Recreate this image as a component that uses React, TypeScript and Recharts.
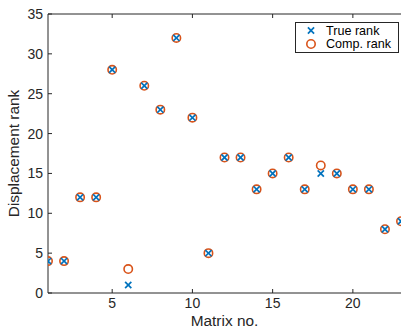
import React from 'react';
import { ScatterChart, Scatter, XAxis, YAxis, Legend } from 'recharts';

const matrixNo = [1, 2, 3, 4, 5, 6, 7, 8, 9, 10, 11, 12, 13, 14, 15, 16, 17, 18, 19, 20, 21, 22, 23];
const trueRank = [4, 4, 12, 12, 28, 1, 26, 23, 32, 22, 5, 17, 17, 13, 15, 17, 13, 15, 15, 13, 13, 8, 9];
const compRank = [4, 4, 12, 12, 28, 3, 26, 23, 32, 22, 5, 17, 17, 13, 15, 17, 13, 16, 15, 13, 13, 8, 9];
const xTicks = [5, 10, 15, 20];
const yTicks = [0, 5, 10, 15, 20, 25, 30, 35];
const seriesNames = ['True rank', 'Comp. rank'];
const xDomain = [1, 23];
const yDomain = [0, 35];
const xTitle = 'Matrix no.';
const yTitle = 'Displacement rank';

const AX = '#262626';
const BLUE = '#0072BD';
const ORANGE = '#D95319';
const FONT = '"Liberation Sans", Arial, Helvetica, sans-serif';
const TL = 4;

const trueData = matrixNo.map((x, i) => ({ x, y: trueRank[i] }));
const compData = matrixNo.map((x, i) => ({ x, y: compRank[i] }));

const BottomTick = (p: any) => {
  const { x, y, payload } = p;
  return (
    <g>
      <line x1={x} x2={x} y1={y} y2={y - TL} stroke={AX} strokeWidth={1} />
      <text x={x} y={y + 15} textAnchor="middle" fill={AX} fontSize={14} fontFamily={FONT}>
        {payload.value}
      </text>
    </g>
  );
};

const TopTick = (p: any) => {
  const { x, y } = p;
  return <line x1={x} x2={x} y1={y} y2={y + TL} stroke={AX} strokeWidth={1} />;
};

const LeftTick = (p: any) => {
  const { x, y, payload } = p;
  return (
    <g>
      <line x1={x} x2={x + TL} y1={y} y2={y} stroke={AX} strokeWidth={1} />
      <text x={x - 5} y={y} dy="0.36em" textAnchor="end" fill={AX} fontSize={14} fontFamily={FONT}>
        {payload.value}
      </text>
    </g>
  );
};

const RightTick = (p: any) => {
  const { x, y } = p;
  return <line x1={x - TL} x2={x} y1={y} y2={y} stroke={AX} strokeWidth={1} />;
};

const XShape = (p: any) => {
  const { cx, cy } = p;
  const s = 3.1;
  return (
    <g>
      <line x1={cx - s} y1={cy - s} x2={cx + s} y2={cy + s} stroke={BLUE} strokeWidth={1.7} />
      <line x1={cx - s} y1={cy + s} x2={cx + s} y2={cy - s} stroke={BLUE} strokeWidth={1.7} />
    </g>
  );
};

const OShape = (p: any) => {
  const { cx, cy } = p;
  return <circle cx={cx} cy={cy} r={4.2} fill="none" stroke={ORANGE} strokeWidth={1.6} />;
};

const XLabel = (p: any) => {
  const vb = p.viewBox || {};
  return (
    <text x={vb.x + vb.width / 2} y={vb.y + 33} textAnchor="middle" fill={AX} fontSize={15.4} fontFamily={FONT}>
      {xTitle}
    </text>
  );
};

const YLabel = (p: any) => {
  const vb = p.viewBox || {};
  const cy = vb.y + vb.height / 2;
  const cx = 19;
  return (
    <text x={cx} y={cy} textAnchor="middle" transform={`rotate(-90, ${cx}, ${cy})`} fill={AX} fontSize={15.4} fontFamily={FONT}>
      {yTitle}
    </text>
  );
};

const LegendBox = () => (
  <svg width={104} height={31} style={{ display: 'block' }}>
    <rect x={0.5} y={0.5} width={103} height={30} fill="#fff" stroke={AX} strokeWidth={1} />
    <XShape cx={16} cy={8.5} />
    <OShape cx={16} cy={22} />
    <text x={31} y={12.8} fill="#000" fontSize={12.6} fontFamily={FONT}>{seriesNames[0]}</text>
    <text x={31} y={26.3} fill="#000" fontSize={12.6} fontFamily={FONT}>{seriesNames[1]}</text>
  </svg>
);

export default function App() {
  return (
    <div style={{ position: 'absolute', left: 0, top: 0, width: 401, height: 328, background: '#fff' }}>
      <ScatterChart width={401} height={328} margin={{ top: 0, right: 0, bottom: 0, left: 0 }}>
        <XAxis
          xAxisId="b"
          dataKey="x"
          type="number"
          orientation="bottom"
          domain={xDomain}
          ticks={xTicks}
          interval={0}
          allowDataOverflow
          height={35}
          tickSize={0}
          tickMargin={0}
          tickLine={false}
          axisLine={{ stroke: AX, strokeWidth: 1 }}
          tick={(props: any) => <BottomTick {...props} />}
          label={(props: any) => <XLabel {...props} />}
        />
        <XAxis
          xAxisId="t"
          dataKey="x"
          type="number"
          orientation="top"
          domain={xDomain}
          ticks={xTicks}
          interval={0}
          allowDataOverflow
          height={14}
          tickSize={0}
          tickMargin={0}
          tickLine={false}
          axisLine={{ stroke: AX, strokeWidth: 1 }}
          tick={(props: any) => <TopTick {...props} />}
        />
        <YAxis
          yAxisId="l"
          dataKey="y"
          type="number"
          orientation="left"
          domain={yDomain}
          ticks={yTicks}
          interval={0}
          allowDataOverflow
          width={48}
          tickSize={0}
          tickMargin={0}
          tickLine={false}
          axisLine={{ stroke: AX, strokeWidth: 1 }}
          tick={(props: any) => <LeftTick {...props} />}
          label={(props: any) => <YLabel {...props} />}
        />
        <YAxis
          yAxisId="r"
          dataKey="y"
          type="number"
          orientation="right"
          domain={yDomain}
          ticks={yTicks}
          interval={0}
          allowDataOverflow
          width={0}
          tickSize={0}
          tickMargin={0}
          tickLine={false}
          axisLine={{ stroke: AX, strokeWidth: 1 }}
          tick={(props: any) => <RightTick {...props} />}
        />
        <Scatter name={seriesNames[1]} data={compData} xAxisId="b" yAxisId="l" shape={(props: any) => <OShape {...props} />} isAnimationActive={false} />
        <Scatter name={seriesNames[0]} data={trueData} xAxisId="b" yAxisId="l" shape={(props: any) => <XShape {...props} />} isAnimationActive={false} />
        <Legend
          layout="vertical"
          align="center"
          verticalAlign="middle"
          wrapperStyle={{ position: 'absolute', left: 295, top: 22, width: 104, height: 31 }}
          content={() => <LegendBox />}
        />
      </ScatterChart>
    </div>
  );
}
